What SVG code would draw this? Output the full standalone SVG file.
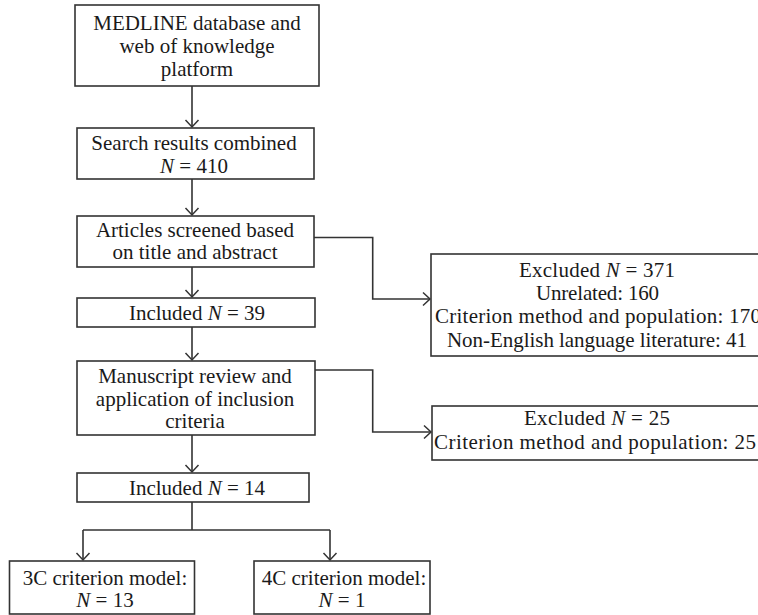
<svg xmlns="http://www.w3.org/2000/svg" width="758" height="615" viewBox="0 0 758 615">
<defs>
<style>
.box{fill:#fff;stroke:#333;stroke-width:1.6}
.t{font-family:"Liberation Serif","Times New Roman",serif;font-size:21px;fill:#1a1a1a;text-anchor:middle}
.i{font-style:italic}
.c{fill:none;stroke:#333;stroke-width:1.6}
</style>
<marker id="ah" markerUnits="userSpaceOnUse" markerWidth="20" markerHeight="20" refX="10" refY="10" orient="auto" viewBox="0 0 20 20">
<path d="M3,3.5 L10,10 L3,16.5" fill="none" stroke="#333" stroke-width="1.5"/>
</marker>
</defs>
<rect width="758" height="615" fill="#fff"/>
<g id="connectors">
<path class="c" d="M192,86 V127" marker-end="url(#ah)"/>
<path class="c" d="M192,179 V215" marker-end="url(#ah)"/>
<path class="c" d="M192,267 V297" marker-end="url(#ah)"/>
<path class="c" d="M192,327 V360" marker-end="url(#ah)"/>
<path class="c" d="M192,435 V472" marker-end="url(#ah)"/>
<path class="c" d="M192,502 V530 M83,530 H330"/>
<path class="c" d="M83,530 V560" marker-end="url(#ah)"/>
<path class="c" d="M330,530 V560" marker-end="url(#ah)"/>
<path class="c" d="M314,237.5 H372.7 V299 H430" marker-end="url(#ah)"/>
<path class="c" d="M315,370 H372.7 V432 H431" marker-end="url(#ah)"/>
</g>
<g id="n1"><rect class="box" x="75" y="5" width="244" height="81"/>
<text class="t" x="197" y="30">MEDLINE database and</text>
<text class="t" x="197" y="53">web of knowledge</text>
<text class="t" x="197" y="76">platform</text></g>
<g id="n2"><rect class="box" x="77" y="128" width="237" height="51"/>
<text class="t" x="194" y="150">Search results combined</text>
<text class="t" x="194" y="173"><tspan class="i">N</tspan> = 410</text></g>
<g id="n3"><rect class="box" x="77" y="216" width="237" height="51"/>
<text class="t" x="195" y="237">Articles screened based</text>
<text class="t" x="195" y="259">on title and abstract</text></g>
<g id="n4"><rect class="box" x="77" y="298" width="238" height="29"/>
<text class="t" x="197" y="320">Included <tspan class="i">N</tspan> = 39</text></g>
<g id="n5"><rect class="box" x="77" y="361" width="238" height="74"/>
<text class="t" x="195" y="383">Manuscript review and</text>
<text class="t" x="195" y="406">application of inclusion</text>
<text class="t" x="195" y="428">criteria</text></g>
<g id="n6"><rect class="box" x="77" y="473" width="232" height="29"/>
<text class="t" x="197" y="495">Included <tspan class="i">N</tspan> = 14</text></g>
<g id="n7"><rect class="box" x="9.5" y="561" width="185" height="53"/>
<text class="t" x="105" y="585">3C criterion model:</text>
<text class="t" x="105" y="607"><tspan class="i">N</tspan> = 13</text></g>
<g id="n8"><rect class="box" x="254" y="561" width="176" height="53"/>
<text class="t" x="344" y="585">4C criterion model:</text>
<text class="t" x="342" y="607"><tspan class="i">N</tspan> = 1</text></g>
<g id="ex1"><rect class="box" x="431" y="254" width="340" height="102"/>
<text class="t" x="597" y="277" textLength="156" lengthAdjust="spacing">Excluded <tspan class="i">N</tspan> = 371</text>
<text class="t" x="597.5" y="300" textLength="123" lengthAdjust="spacing">Unrelated: 160</text>
<text class="t" x="598" y="323" textLength="326" lengthAdjust="spacing">Criterion method and population: 170</text>
<text class="t" x="597" y="347" textLength="300" lengthAdjust="spacing">Non-English language literature: 41</text></g>
<g id="ex2"><rect class="box" x="432" y="406" width="340" height="54"/>
<text class="t" x="597" y="425" textLength="146" lengthAdjust="spacing">Excluded <tspan class="i">N</tspan> = 25</text>
<text class="t" x="595" y="449" textLength="322" lengthAdjust="spacing">Criterion method and population: 25</text></g>
</svg>
